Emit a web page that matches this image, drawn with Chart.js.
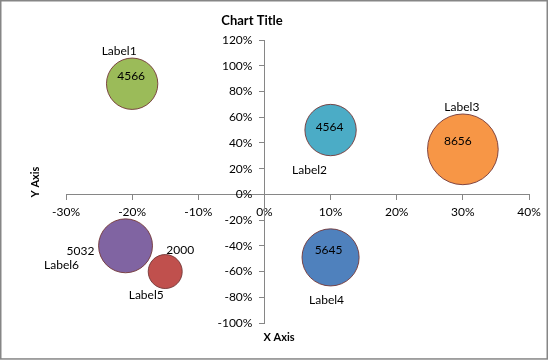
<!DOCTYPE html>
<html><head><meta charset="utf-8">
<script src="https://cdn.jsdelivr.net/npm/chart.js@4/dist/chart.umd.min.js"></script>
<style>html,body{margin:0;padding:0;background:#fff}canvas{display:block}</style>
</head><body>
<canvas id="c" width="548" height="360"></canvas>
<script>
// ---- data ----
const pointNames = ['Label1', 'Label2', 'Label3', 'Label4', 'Label5', 'Label6'];
const xValues = [-0.20, 0.10, 0.30, 0.10, -0.15, -0.21];
const yValues = [0.86, 0.50, 0.35, -0.49, -0.60, -0.40];
const bubbleSizes = [4566, 4564, 8656, 5645, 2000, 5032];
const xTickLabels = ['-30%', '-20%', '-10%', '0%', '10%', '20%', '30%', '40%'];
const yTickLabels = ['-100%', '-80%', '-60%', '-40%', '-20%', '0%', '20%', '40%', '60%', '80%', '100%', '120%'];
const chartTitle = 'Chart Title';
const xAxisTitle = 'X Axis';
const yAxisTitle = 'Y Axis';

// ---- style ----
const FONT = 'Lato, "Open Sans", sans-serif';
const colors = ['#9BBB59', '#4BACC6', '#F79646', '#4F81BD', '#C0504D', '#8064A2'];
const RADIUS_SCALE = 0.38;
const valueOffsets = [[-1, -8], [-1, -3], [-5, -8], [-2, -7], [15, -21], [-45, 5]];
const nameOffsets = [[-13, -33], [-21, 40], [-1, -42], [-4, 43], [-19, 24], [-64, 19]];
const AXIS_GRAY = '#868686';
const Y_LABEL_GAP = 12;

const textPlugin = {
  id: 'texts',
  beforeDraw(chart) {
    const ctx = chart.ctx;
    ctx.save();
    ctx.fillStyle = '#fff';
    ctx.fillRect(0, 0, chart.width, chart.height);
    ctx.strokeStyle = AXIS_GRAY;
    ctx.lineWidth = 1.5;
    ctx.strokeRect(0.75, 0.75, chart.width - 1.5, chart.height - 1.8);
    ctx.restore();
  },
  afterDatasetsDraw(chart) {
    const ctx = chart.ctx;
    const meta = chart.getDatasetMeta(0);
    const xs = chart.scales.x, ys = chart.scales.y;
    ctx.save();
    ctx.fillStyle = '#000';
    ctx.textBaseline = 'middle';
    // y tick labels, placed from the y scale
    ctx.font = '12px ' + FONT;
    ctx.textAlign = 'right';
    const axisX = xs.getPixelForValue(0);
    ys.ticks.forEach((t, i) => {
      ctx.fillText(yTickLabels[i], axisX - Y_LABEL_GAP, ys.getPixelForValue(t.value));
    });
    ctx.textAlign = 'center';
    meta.data.forEach((el, i) => {
      ctx.fillText(String(bubbleSizes[i]), el.x + valueOffsets[i][0], el.y + valueOffsets[i][1]);
      ctx.fillText(pointNames[i], el.x + nameOffsets[i][0], el.y + nameOffsets[i][1]);
    });
    ctx.font = 'bold 13px ' + FONT;
    ctx.fillText(chartTitle, 252, 21);
    ctx.font = 'bold 11px ' + FONT;
    ctx.fillText(xAxisTitle, 279, 337);
    ctx.translate(35, 182);
    ctx.rotate(-Math.PI / 2);
    ctx.fillText(yAxisTitle, 0, 0);
    ctx.restore();
  }
};

new Chart(document.getElementById('c'), {
  type: 'bubble',
  data: {
    datasets: [{
      label: 'Series',
      data: xValues.map((x, i) => ({ x: x, y: yValues[i], r: RADIUS_SCALE * Math.sqrt(bubbleSizes[i]) })),
      backgroundColor: colors,
      borderColor: 'rgba(115,55,55,0.9)',
      borderWidth: 1,
      clip: false
    }]
  },
  options: {
    responsive: false,
    animation: false,
    events: [],
    layout: { autoPadding: false, padding: { left: 66, right: 19, top: 40, bottom: 37 } },
    plugins: { legend: { display: false }, tooltip: { enabled: false }, title: { display: false } },
    scales: {
      x: {
        type: 'linear',
        position: { y: 0 },
        min: -0.3, max: 0.4,
        ticks: {
          stepSize: 0.1,
          color: '#000',
          font: { family: FONT, size: 12 },
          padding: 6,
          maxRotation: 0,
          callback: (v, i) => xTickLabels[i]
        },
        grid: { drawOnChartArea: false, drawTicks: true, tickLength: 5, color: AXIS_GRAY },
        border: { display: true, color: AXIS_GRAY, width: 1 }
      },
      y: {
        type: 'linear',
        position: { x: 0 },
        min: -1, max: 1.2,
        ticks: {
          stepSize: 0.2,
          display: false
        },
        grid: { drawOnChartArea: false, drawTicks: true, tickLength: 5, color: AXIS_GRAY },
        border: { display: true, color: AXIS_GRAY, width: 1 }
      }
    }
  },
  plugins: [textPlugin]
});
</script>
</body></html>
